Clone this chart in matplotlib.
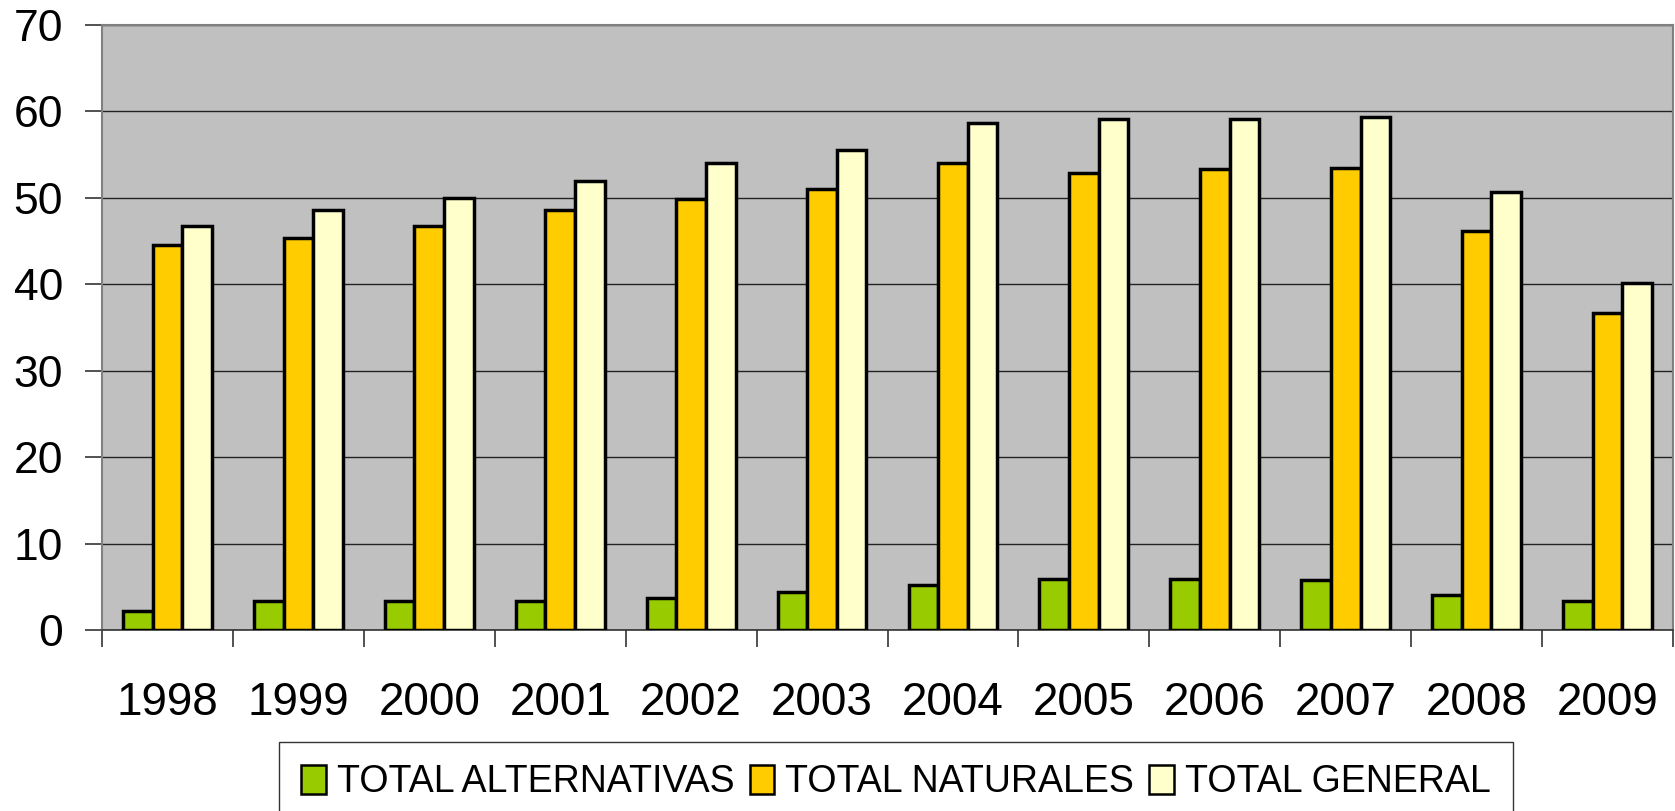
import matplotlib
matplotlib.use("Agg")
import matplotlib.pyplot as plt
import numpy as np
from matplotlib.patches import Patch

years = ["1998", "1999", "2000", "2001", "2002", "2003", "2004", "2005", "2006", "2007", "2008", "2009"]
alternativas = [2.2, 3.3, 3.3, 3.3, 3.7, 4.4, 5.2, 5.9, 5.9, 5.8, 4.0, 3.3]
naturales = [44.6, 45.3, 46.8, 48.6, 49.9, 51.0, 54.0, 52.9, 53.3, 53.5, 46.2, 36.7]
general = [46.8, 48.6, 50.0, 51.9, 54.0, 55.5, 58.7, 59.1, 59.1, 59.3, 50.7, 40.1]
series_names = ["TOTAL ALTERNATIVAS", "TOTAL NATURALES", "TOTAL GENERAL"]
colors = ["#99CC00", "#FFCC00", "#FFFFCC"]

plt.rcParams['font.family'] = ['Liberation Sans', 'DejaVu Sans']

fig = plt.figure(figsize=(16.75, 8.11), dpi=100)
ax = fig.add_axes([102/1675, 1 - 630/811, (1673-102)/1675, (630-25)/811])
ax.set_facecolor("#C0C0C0")

x = np.arange(len(years))
w = 0.226
for i, (vals, c) in enumerate(zip([alternativas, naturales, general], colors)):
    ax.bar(x + (i - 1) * w, vals, width=w, color=c, edgecolor="black", linewidth=2.5, zorder=3)

ax.set_xlim(-0.5, len(years) - 0.5)
ax.set_ylim(0, 70)
ax.set_yticks(range(0, 71, 10))
ax.yaxis.grid(True, color="#222222", linewidth=1.0, zorder=1)
ax.set_axisbelow(True)

ax.set_xticks(x)
ax.set_xticklabels(years, fontsize=33)
ax.tick_params(axis='x', which='major', length=0, pad=37)
ax.set_xticks(np.arange(-0.5, len(years)), minor=True)
ax.tick_params(axis='x', which='minor', length=12, width=1.2, color="#333333", direction='out')
ax.tick_params(axis='y', which='major', length=12, width=1.2, color="#333333", direction='out', labelsize=32, pad=16)

for s in ["left", "top", "right"]:
    ax.spines[s].set_color("#808080")
    ax.spines[s].set_linewidth(1.5)
ax.spines["bottom"].set_color("#333333")
ax.spines["bottom"].set_linewidth(1.2)

handles = [Patch(facecolor=c, edgecolor="black", linewidth=1.8) for c in colors]
leg = fig.legend(handles, series_names, loc="upper center", bbox_to_anchor=(896/1675, 1 - 742/811),
                 ncol=3, fontsize=27, frameon=True, fancybox=False, edgecolor="black",
                 handlelength=0.65, handleheight=0.85, handletextpad=0.3, columnspacing=0.4,
                 borderpad=0.6, borderaxespad=0)
leg.get_frame().set_linewidth(1.0)

fig.savefig("out.png", dpi=100)
